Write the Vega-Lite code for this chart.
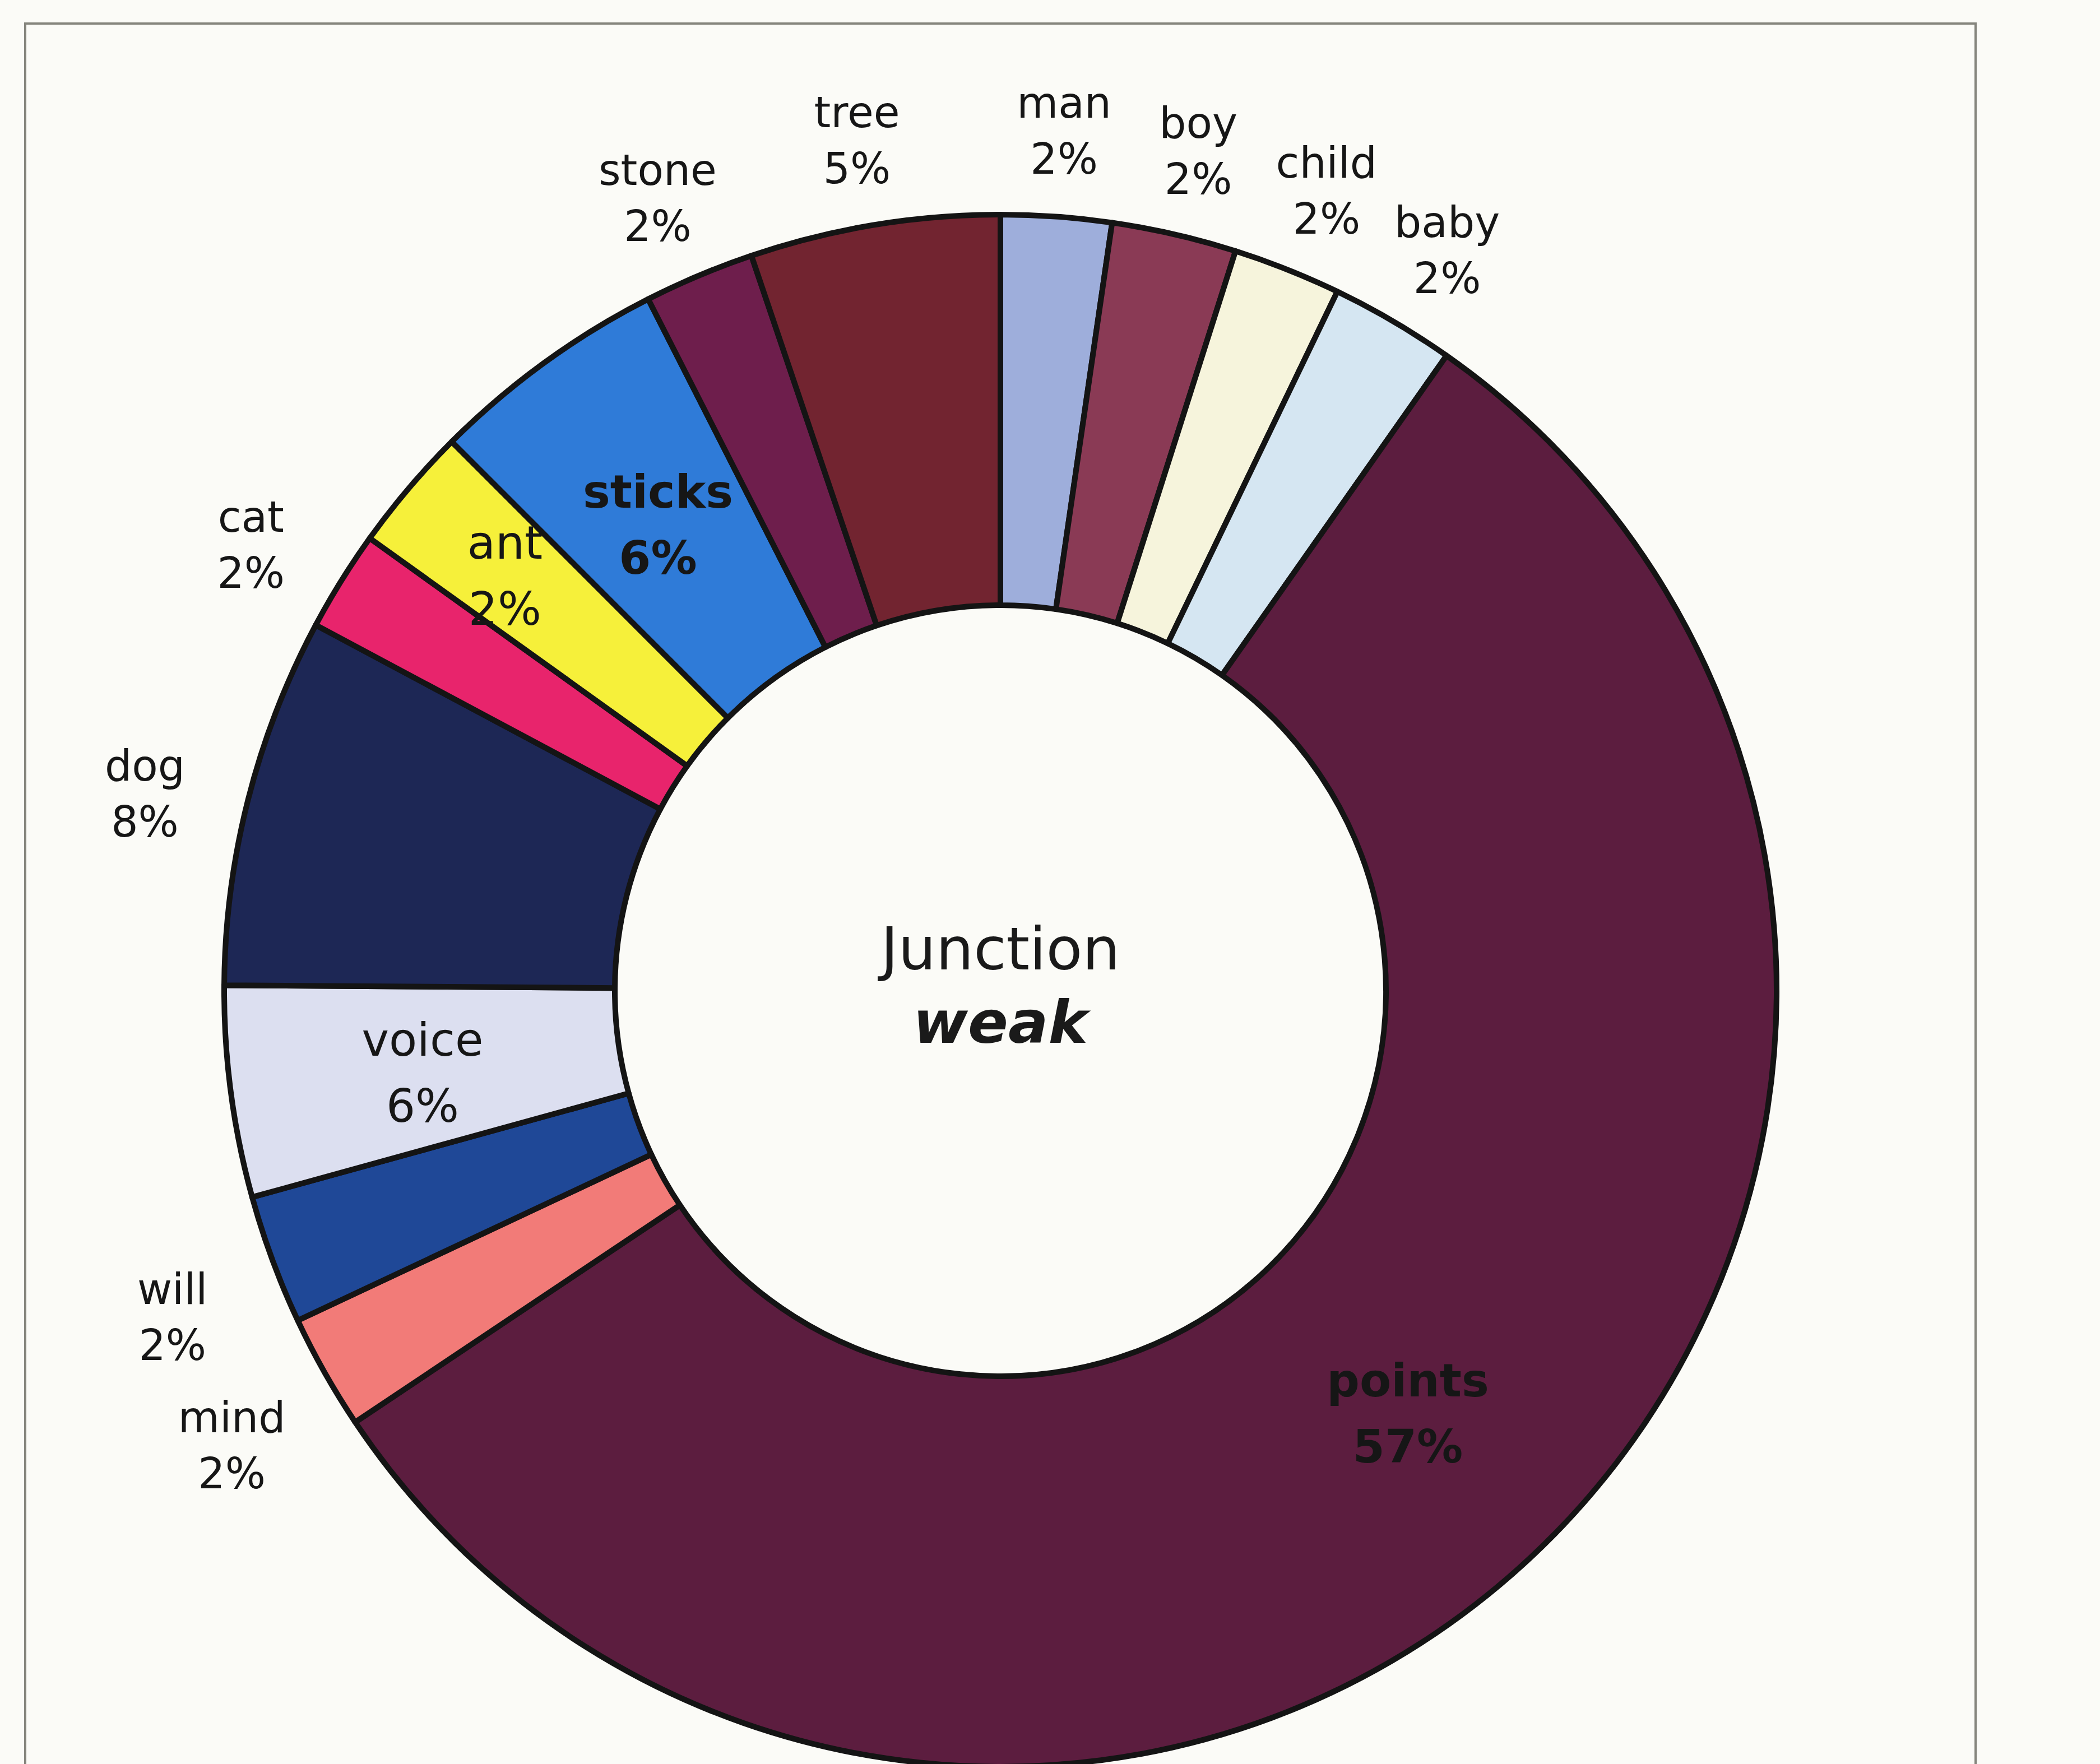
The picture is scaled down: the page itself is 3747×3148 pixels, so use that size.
{
  "$schema": "https://vega.github.io/schema/vega-lite/v6.json",
  "width": 3480,
  "height": 3452,
  "autosize": {"type": "none"},
  "padding": {"left": 45, "top": 42, "right": 222, "bottom": 0},
  "background": "#fbfbf7",
  "view": {"stroke": "#85857d", "strokeWidth": 4},
  "config": {"view": {"stroke": "#85857d", "strokeWidth": 4}},
  "data": {
    "values": [
      {"idx": 1, "name": "man", "share": 2.3, "label": "man\n2%", "placement": "outside"},
      {"idx": 2, "name": "boy", "share": 2.6, "label": "boy\n2%", "placement": "outside"},
      {"idx": 3, "name": "child", "share": 2.25, "label": "child\n2%", "placement": "outside"},
      {"idx": 4, "name": "baby", "share": 2.6, "label": "baby\n2%", "placement": "outside"},
      {"idx": 5, "name": "points", "share": 55.9, "label": "points\n57%", "placement": "inside"},
      {"idx": 6, "name": "mind", "share": 2.4, "label": "mind\n2%", "placement": "outside"},
      {"idx": 7, "name": "will", "share": 2.7, "label": "will\n2%", "placement": "outside"},
      {"idx": 8, "name": "voice", "share": 4.4, "label": "voice\n6%", "placement": "inside"},
      {"idx": 9, "name": "dog", "share": 7.7, "label": "dog\n8%", "placement": "outside"},
      {"idx": 10, "name": "cat", "share": 2.1, "label": "cat\n2%", "placement": "outside"},
      {"idx": 11, "name": "ant", "share": 2.6, "label": "ant\n2%", "placement": "inside"},
      {"idx": 12, "name": "sticks", "share": 5.0, "label": "sticks\n6%", "placement": "inside"},
      {"idx": 13, "name": "stone", "share": 2.3, "label": "stone\n2%", "placement": "outside"},
      {"idx": 14, "name": "tree", "share": 5.2, "label": "tree\n5%", "placement": "outside"}
    ]
  },
  "layer": [
    {
      "mark": {"type": "arc", "radius": 1385, "radius2": 688, "stroke": "#141414", "strokeWidth": 10, "strokeJoin": "round"},
      "encoding": {
        "theta": {"field": "share", "type": "quantitative", "stack": true},
        "order": {"field": "idx", "type": "quantitative"},
        "color": {
          "field": "name",
          "type": "nominal",
          "legend": null,
          "scale": {
            "domain": ["man", "boy", "child", "baby", "points", "mind", "will", "voice", "dog", "cat", "ant", "sticks", "stone", "tree"],
            "range": ["#9eaedb", "#8a3a55", "#f6f4dc", "#d5e6f2", "#5c1d3f", "#f27b78", "#1f4897", "#dcdff0", "#1d2755", "#e8246c", "#f6f03a", "#2f7bd8", "#6e1e4c", "#722430"]
          }
        }
      }
    },
    {
      "mark": {
        "type": "text",
        "font": "DejaVu Sans",
        "lineBreak": "\n",
        "align": "center",
        "baseline": "middle",
        "color": "#161616",
        "lineHeight": {"expr": "datum.placement === 'inside' ? 118 : 100"},
        "fontSize": {"expr": "datum.placement === 'inside' ? 82 : 76"},
        "dy": {"expr": "datum.placement === 'inside' ? -45 : -10"},
        "fontWeight": {"expr": "(datum.name === 'sticks' || datum.name === 'points') ? 'bold' : 'normal'"}
      },
      "encoding": {
        "theta": {"field": "share", "type": "quantitative", "stack": true},
        "order": {"field": "idx", "type": "quantitative"},
        "detail": {"field": "name", "type": "nominal"},
        "radius": {"value": {"expr": "datum.name === 'ant' ? 1160 : (datum.placement === 'inside' ? 1040 : 1575)"}},
        "text": {"field": "label", "type": "nominal"}
      }
    },
    {
      "data": {"values": [{"t": "Junction"}]},
      "mark": {"type": "text", "font": "DejaVu Sans", "fontSize": 106, "color": "#1a1a1a", "align": "center", "baseline": "middle", "dy": -70},
      "encoding": {"text": {"field": "t", "type": "nominal"}}
    },
    {
      "data": {"values": [{"t": "weak"}]},
      "mark": {"type": "text", "font": "DejaVu Sans", "fontSize": 106, "fontWeight": "bold", "fontStyle": "italic", "color": "#1a1a1a", "align": "center", "baseline": "middle", "dy": 61},
      "encoding": {"text": {"field": "t", "type": "nominal"}}
    }
  ]
}
